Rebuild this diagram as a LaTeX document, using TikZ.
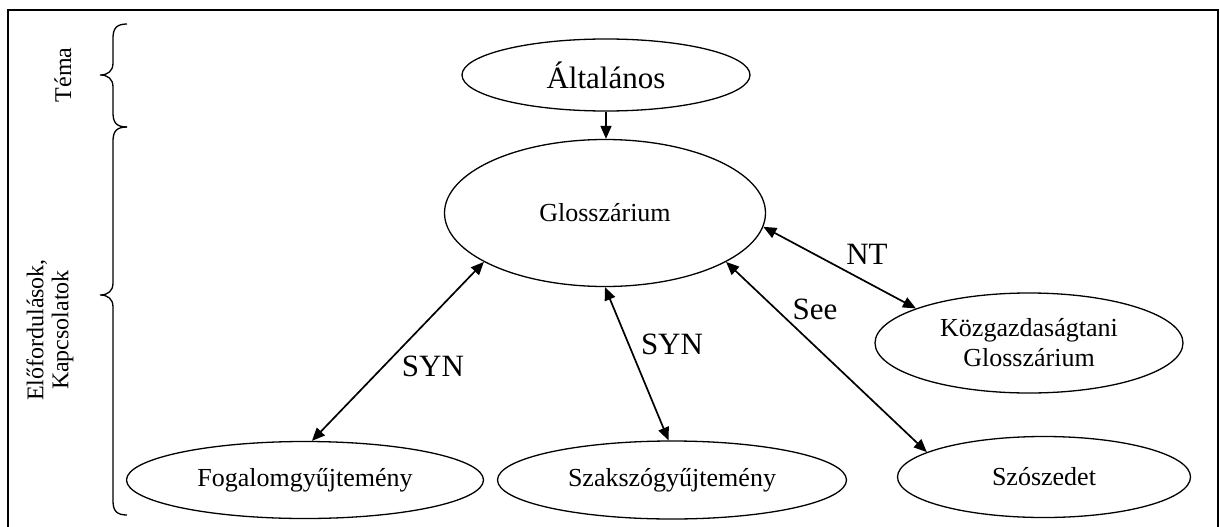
\documentclass[tikz,border=0pt]{standalone}
\usepackage{fontspec}
\setmainfont{Liberation Serif}
\usetikzlibrary{shapes.geometric,arrows.meta}
\begin{document}
\begin{tikzpicture}[x=1pt,y=-1pt,
  ell/.style={ellipse, draw, line width=1.3pt, inner sep=0pt, font=\fontsize{26}{30}\selectfont, align=center},
  conn/.style={line width=1.7pt, -{Triangle[length=13pt,width=11pt]}},
  biconn/.style={line width=1.7pt, {Triangle[length=13pt,width=11pt]}-{Triangle[length=13pt,width=11pt]}},
  lbl/.style={inner sep=0pt, font=\fontsize{31}{36}\selectfont},
  side/.style={inner sep=0pt, font=\fontsize{24}{25}\selectfont, align=center, rotate=90},
  brace/.style={line width=1.3pt}]
\useasboundingbox (0,0) rectangle (1220,527);
\fill[white] (0,0) rectangle (1220,527);
% frame
\draw[line width=1.6pt] (8,527) -- (8,10) -- (1218,10) -- (1218,527);
% braces
\draw[brace] (127,24) .. controls (117,24) and (113,28) .. (113,38) -- (113,63)
  .. controls (113,71) and (108,75) .. (100,75)
  .. controls (108,75) and (113,79) .. (113,87) -- (113,113)
  .. controls (113,123) and (117,127) .. (127,127);
\draw[brace] (127,127) .. controls (117,127) and (113,131) .. (113,141) -- (113,283)
  .. controls (113,291) and (108,295) .. (100,295)
  .. controls (108,295) and (113,299) .. (113,307) -- (113,501)
  .. controls (113,511) and (117,515) .. (127,515);
\node[side] (tema) at (63,75) {Téma};
\node[side] (elo) at (50,330) {Előfordulások,\\Kapcsolatok};
% nodes
\node[ell, minimum width=288pt, minimum height=72pt, font=\fontsize{31}{36}\selectfont] (alt) at (606,75) {Általános};
\node[ell, minimum width=321pt, minimum height=147pt] (glo) at (605,213) {Glosszárium};
\node[ell, minimum width=308pt, minimum height=100pt] (kozg) at (1029,343) {Közgazdaságtani\\Glosszárium};
\node[ell, minimum width=293pt, minimum height=81pt] (szo) at (1044,477) {Szószedet};
\node[ell, minimum width=357pt, minimum height=77pt] (fog) at (305,480) {Fogalomgyűjtemény};
\node[ell, minimum width=349pt, minimum height=78pt] (szak) at (672,480) {Szakszógyűjtemény};
% connectors
\draw[conn] (alt.south) -- (alt.south |- glo.north);
\draw[biconn] (glo.202) -- (fog.80);
\draw[biconn] (glo.south) -- (szak.95);
\draw[biconn] (glo.338.6) -- (szo.168.8);
\draw[biconn] (glo.355) -- (kozg.163.6);
% labels
\node[lbl] (syn1) at (433,366) {SYN};
\node[lbl] (syn2) at (672,344) {SYN};
\node[lbl] (nt) at (867,254) {NT};
\node[lbl] (see) at (815,309) {See};
\end{tikzpicture}
\end{document}
